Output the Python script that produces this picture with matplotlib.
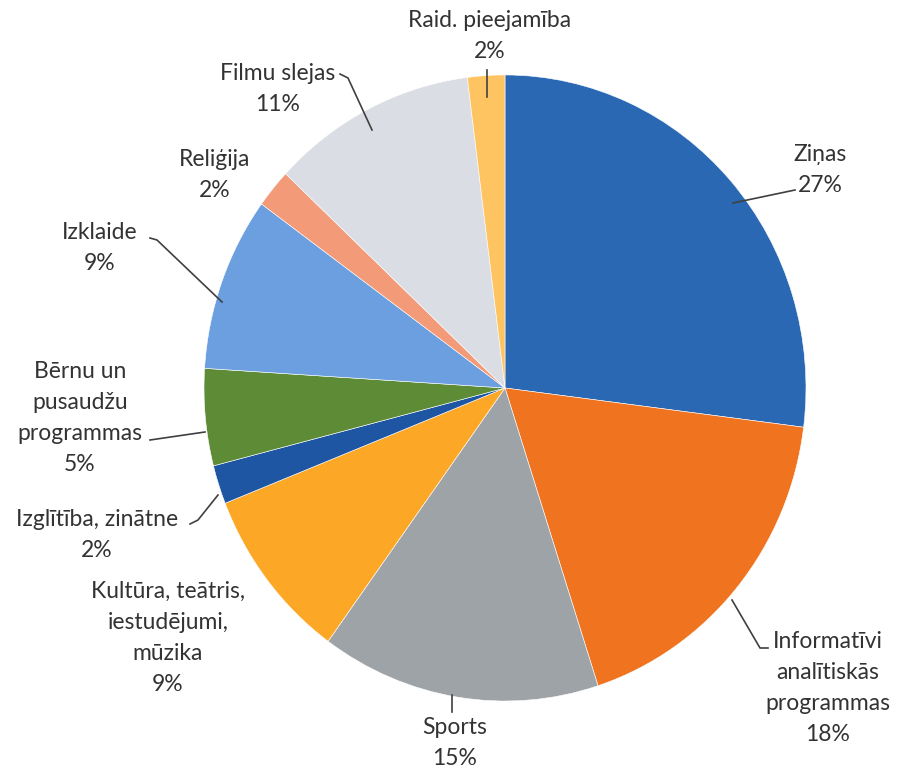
import matplotlib.pyplot as plt

# data (clockwise from 12 o'clock)
labels = ['Ziņas', 'Informatīvi\nanalītiskās\nprogrammas', 'Sports',
          'Kultūra, teātris,\niestudējumi,\nmūzika', 'Izglītība, zinātne',
          'Bērnu un\npusaudžu\nprogrammas', 'Izklaide', 'Reliģija',
          'Filmu slejas', 'Raid. pieejamība']
shares = [27, 18, 15, 9, 2, 5, 9, 2, 11, 2]
colors = ['#2b68b3', '#f0731f', '#9ea3a8', '#fda726', '#1f56a3',
          '#5d8b36', '#6b9fe0', '#f39a78', '#dadde4', '#ffc462']

# where each label sits (pixel coords, y from top) and its leader line
label_xy = [(820, 170), (828, 688), (455, 743), (168, 638), (97, 535),
            (80, 418), (100, 248), (215, 175), (278, 89), (490, 36)]
leaders = [[(733, 203), (795, 190)],
           [(732, 600), (760, 648), (768, 648)],
           [(452, 695), (452, 712)],
           None,
           [(190, 524), (198, 520), (218, 495)],
           [(150, 440), (205, 432)],
           [(150, 238), (157, 240), (222, 302)],
           None,
           [(340, 74), (348, 78), (372, 130)],
           [(487, 70), (487, 97)]]

W, H = 901, 771
SY = 1.04  # the scanned pie is a little taller than wide


def px(x, y):
    return x, (H - y) / SY


fig = plt.figure(figsize=(W / 100, H / 100), dpi=100)
ax = fig.add_axes([0, 0, 1, 1])

ax.pie(shares, colors=colors, startangle=90, counterclock=False,
       center=px(505, 388), radius=301,
       wedgeprops=dict(edgecolor='white', linewidth=0.4))
ax.set_aspect('auto')
ax.set_xlim(0, W)
ax.set_ylim(0, H / SY)
ax.axis('off')

for lab, val, (x, y), ld in zip(labels, shares, label_xy, leaders):
    ax.text(*px(x, y), '{}\n{}%'.format(lab, val), ha='center', va='center',
            fontsize=16.5, family=['Lato', 'DejaVu Sans'], color='#333333',
            linespacing=1.6)
    if ld:
        pts = [px(*p) for p in ld]
        ax.plot([p[0] for p in pts], [p[1] for p in pts], color='#404040', lw=1.2)

fig.savefig('out.png', dpi=100, facecolor='white')
